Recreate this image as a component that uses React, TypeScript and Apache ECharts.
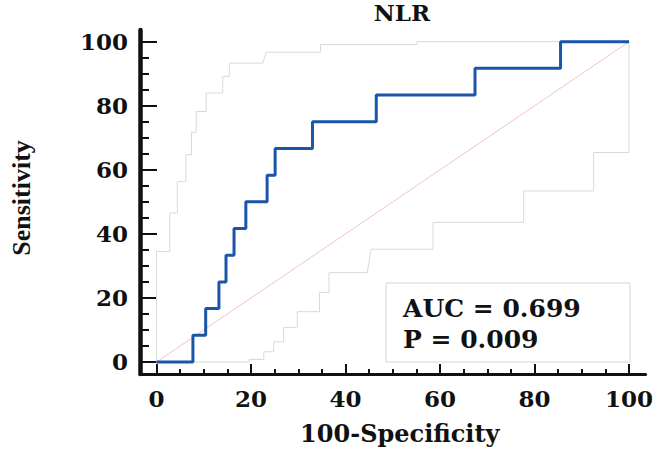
import React, { useEffect, useRef } from "react";
import * as echarts from "echarts";

// Tick values
const xMajorTicks = [0, 20, 40, 60, 80, 100];
const xMinorTicks = [5, 10, 15, 25, 30, 35, 45, 50, 55, 65, 70, 75, 85, 90, 95];
const yMajorTicks = [0, 20, 40, 60, 80, 100];
const yMinorTicks = [5, 10, 15, 25, 30, 35, 45, 50, 55, 65, 70, 75, 85, 90, 95];

// ROC operating points (100-Specificity, Sensitivity), drawn as an "end" step line
const rocPoints = [
  [0, 0], [7.7, 8.33], [10.4, 16.67], [13.2, 25], [14.7, 33.33], [16.4, 41.67],
  [18.9, 50], [23.4, 58.33], [25.1, 66.67], [33.0, 75], [46.5, 83.33],
  [67.4, 91.67], [85.5, 100], [100, 100],
];

// Upper 95% confidence bound (vertices)
const upperCI = [
  [0, 0], [0, 34.5], [2.8, 34.5], [2.8, 46.5], [4.4, 46.5], [4.4, 56.3],
  [6.2, 56.3], [6.2, 64.7], [7.4, 64.7], [7.4, 71.7], [8.4, 71.7], [8.4, 78.2],
  [10.5, 78.2], [10.5, 84], [14.0, 84], [14.0, 89.2], [15.4, 89.2], [15.4, 93.3],
  [22.5, 93.3], [23.2, 96.7], [34.7, 96.7], [34.7, 99.1], [55.1, 99.1],
  [55.1, 100], [100, 100],
];

// Lower 95% confidence bound (vertices)
const lowerCI = [
  [0, 0], [19.6, 0], [19.6, 0.8], [22.7, 0.8], [22.7, 3.2], [24.8, 3.2],
  [24.8, 6.3], [26.9, 6.3], [26.9, 10.8], [29.8, 10.8], [29.8, 15.7],
  [34.5, 15.7], [34.5, 21.7], [36.5, 21.7], [36.5, 27.9], [44.6, 27.9],
  [45.4, 35.2], [58.5, 35.2], [58.5, 43.6], [77.7, 43.6], [77.7, 53.4],
  [92.5, 53.4], [92.5, 65.4], [100, 65.4], [100, 100],
];

// Reference (chance) line
const diagonal = [[0, 0], [100, 100]];

const titleText = "NLR";
const xName = "100-Specificity";
const yName = "Sensitivity";
const aucLabel = "AUC = 0.699";
const pLabel = "P = 0.009";

const SERIF_WIDE = "DejaVu Serif";
const INK = "#111111";

export default function App() {
  const ref = useRef<HTMLDivElement>(null);

  useEffect(() => {
    if (!ref.current) return;
    const chart = echarts.init(ref.current, undefined, { renderer: "svg" });

    const labelStyle = {
      fontFamily: SERIF_WIDE,
      fontWeight: "bold" as const,
      fontSize: 23,
      color: INK,
    };

    const xMin = -3.5;
    const xMax = 103.5;
    const yMin = -3.75;
    const yMax = 103.65;

    chart.setOption({
      animation: false,
      backgroundColor: "#ffffff",
      title: {
        text: titleText,
        left: 397,
        top: 1,
        padding: [0, 5, 0, 5],
        textAlign: "center",
        textStyle: {
          fontFamily: SERIF_WIDE,
          fontWeight: "bold",
          fontSize: 23,
          color: INK,
        },
      },
      grid: { left: 138, right: 9, top: 30, bottom: 78 },
      xAxis: [
        {
          type: "value",
          position: "bottom",
          min: xMin,
          max: xMax,
          name: xName,
          nameLocation: "middle",
          nameGap: 47,
          nameTextStyle: {
            fontFamily: SERIF_WIDE,
            fontWeight: "bold",
            fontSize: 24,
            color: INK,
            padding: [0, 0, 0, 14],
          },
          axisLine: { show: true, onZero: false, lineStyle: { color: INK, width: 3 } },
          axisTick: {
            show: true,
            inside: true,
            length: 10,
            customValues: xMajorTicks,
            lineStyle: { color: INK, width: 2 },
          },
          axisLabel: { ...labelStyle, margin: 13, customValues: xMajorTicks },
          splitLine: { show: false },
        },
        {
          type: "value",
          position: "bottom",
          offset: 0,
          min: xMin,
          max: xMax,
          axisLine: { show: false, onZero: false },
          axisTick: {
            show: true,
            inside: true,
            length: 5,
            customValues: xMinorTicks,
            lineStyle: { color: INK, width: 2 },
          },
          axisLabel: { show: false },
          splitLine: { show: false },
        },
      ],
      yAxis: [
        {
          type: "value",
          position: "left",
          min: yMin,
          max: yMax,
          name: yName,
          nameLocation: "middle",
          nameGap: 106,
          nameTextStyle: {
            fontFamily: "Liberation Serif",
            fontWeight: "bold",
            fontSize: 26,
            color: INK,
            padding: [0, 0, 0, 8],
          },
          axisLine: { show: true, onZero: false, lineStyle: { color: INK, width: 4.5 } },
          axisTick: {
            show: true,
            inside: true,
            length: 17,
            customValues: yMajorTicks,
            lineStyle: { color: INK, width: 2 },
          },
          axisLabel: { ...labelStyle, margin: 12, customValues: yMajorTicks },
          splitLine: { show: false },
        },
        {
          type: "value",
          position: "left",
          offset: 0,
          min: yMin,
          max: yMax,
          axisLine: { show: false, onZero: false },
          axisTick: {
            show: true,
            inside: true,
            length: 9,
            customValues: yMinorTicks,
            lineStyle: { color: INK, width: 2 },
          },
          axisLabel: { show: false },
          splitLine: { show: false },
        },
      ],
      series: [
        {
          name: "Upper 95% CI",
          type: "line",
          data: upperCI,
          showSymbol: false,
          lineStyle: { color: "#d9d9d9", width: 1 },
          z: 1,
        },
        {
          name: "Lower 95% CI",
          type: "line",
          data: lowerCI,
          showSymbol: false,
          lineStyle: { color: "#d9d9d9", width: 1 },
          z: 1,
        },
        {
          name: "Reference",
          type: "line",
          data: diagonal,
          showSymbol: false,
          lineStyle: { color: "#f2c4c4", width: 1 },
          z: 2,
        },
        {
          name: "ROC",
          type: "line",
          step: "end",
          data: rocPoints,
          showSymbol: false,
          lineStyle: { color: "#1a56a8", width: 3 },
          z: 5,
        },
      ],
      graphic: [
        {
          type: "rect",
          shape: { x: 386, y: 283, width: 244, height: 79 },
          style: { fill: "#ffffff", stroke: "#d4d4d4", lineWidth: 1 },
          z: 10,
        },
        {
          type: "text",
          x: 403,
          y: 308,
          style: {
            text: aucLabel,
            fontFamily: SERIF_WIDE,
            fontWeight: "bold",
            fontSize: 25,
            fill: INK,
            textVerticalAlign: "middle",
          },
          z: 11,
        },
        {
          type: "text",
          x: 403,
          y: 339,
          style: {
            text: pLabel,
            fontFamily: SERIF_WIDE,
            fontWeight: "bold",
            fontSize: 25,
            fill: INK,
            textVerticalAlign: "middle",
          },
          z: 11,
        },
      ],
    });

    return () => chart.dispose();
  }, []);

  return (
    <div
      ref={ref}
      style={{ position: "fixed", left: 0, top: 0, width: 656, height: 452 }}
    />
  );
}
